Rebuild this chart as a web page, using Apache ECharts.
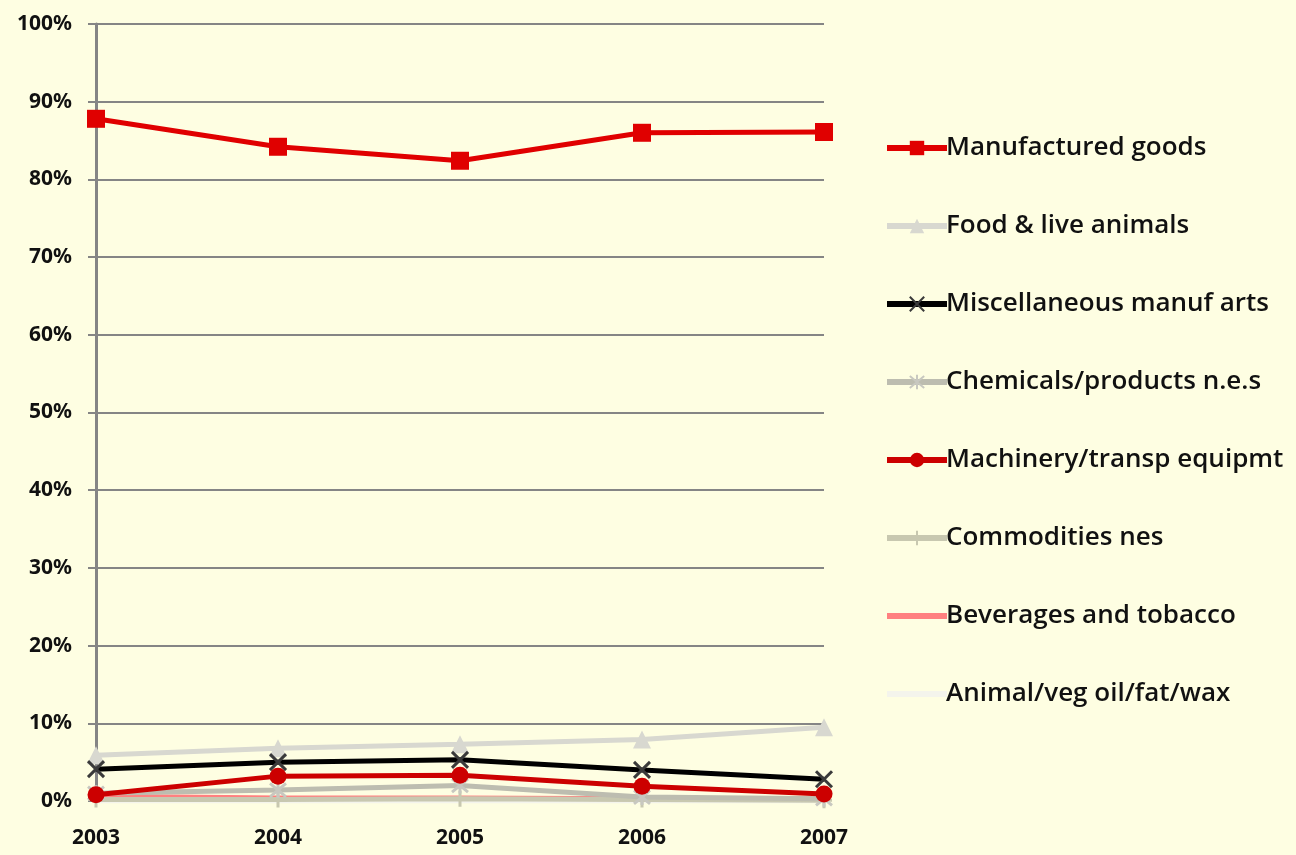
<!DOCTYPE html>
<html>
<head>
<meta charset="utf-8">
<script src="https://cdn.jsdelivr.net/npm/echarts@6/dist/echarts.min.js"></script>
<style>html,body{margin:0;padding:0;background:#fefee2;}#c{width:1296px;height:855px;}</style>
</head>
<body>
<div id="c"></div>
<script>
var years = ['2003','2004','2005','2006','2007'];
var manufactured = [87.8, 84.2, 82.4, 86.0, 86.1];
var food = [5.9, 6.8, 7.3, 7.9, 9.5];
var misc = [4.1, 5.0, 5.3, 4.0, 2.8];
var chemicals = [1.0, 1.4, 2.0, 0.5, 0.3];
var machinery = [0.8, 3.2, 3.3, 1.9, 0.9];
var commodities = [0.2, 0.2, 0.3, 0.2, 0.1];
var beverages = [0.6, 0.4, 0.4, 0.3, 0.3];
var animalOil = [0.0, 0.0, 0.0, 0.0, 0.0];
var yTicks = [0, 10, 20, 30, 40, 50, 60, 70, 80, 90, 100];

var X_PATH = 'path://M0,0L10,10M10,0L0,10';
var AST_PATH = 'path://M0,0L10,10M10,0L0,10M5,-1L5,11';
var PLUS_PATH = 'path://M5,0L5,10M0,5L10,5';

function mk(name, data, lineColor, symbol, size, markColor, stroke, z) {
  var s = {
    name: name, type: 'line', data: data, z: z,
    lineStyle: {color: lineColor, width: 5},
    itemStyle: {color: markColor},
    symbol: symbol, symbolSize: size, showSymbol: symbol !== 'none',
    emphasis: {disabled: true}, animation: false
  };
  if (stroke) {
    s.itemStyle = {color: 'transparent', borderColor: markColor, borderWidth: 3};
  }
  return s;
}

var names = ['Manufactured goods','Food & live animals','Miscellaneous manuf arts','Chemicals/products n.e.s','Machinery/transp equipmt','Commodities nes','Beverages and tobacco','Animal/veg oil/fat/wax'];
var legendData = names.map(function(n){
  if (n === 'Beverages and tobacco' || n === 'Animal/veg oil/fat/wax') {
    return {name: n, itemStyle: {opacity: 0}};
  }
  return {name: n};
});

var chart = echarts.init(document.getElementById('c'));
chart.setOption({
  backgroundColor: '#fefee2',
  animation: false,
  grid: {left: 96, right: 472, top: 24, bottom: 54, containLabel: false},
  xAxis: {
    type: 'category', data: years, boundaryGap: false,
    axisLine: {show: false}, axisTick: {show: false},
    axisLabel: {fontFamily: 'Noto Sans', fontWeight: 'bold', fontSize: 21, color: '#111', margin: 27}
  },
  yAxis: {
    type: 'value', min: 0, max: 100, interval: 10,
    axisLine: {show: true, lineStyle: {color: '#858585', width: 3}},
    axisTick: {show: true, length: 8, lineStyle: {color: '#858585', width: 2}},
    splitLine: {lineStyle: {color: '#858585', width: 2}},
    axisLabel: {fontFamily: 'Noto Sans', fontWeight: 'bold', fontSize: 21, color: '#111', margin: 24,
      formatter: function(v){ return yTicks.indexOf(v) >= 0 ? v + '%' : ''; }}
  },
  legend: {
    orient: 'vertical', left: 879, top: 130,
    itemWidth: 60, itemHeight: 18, itemGap: 52,
    lineStyle: {width: 6},
    textStyle: {fontFamily: 'Open Sans', fontSize: 26, color: '#111', fontWeight: 600, padding: [0,0,0,-6]},
    data: legendData
  },
  series: [
    mk('Animal/veg oil/fat/wax', animalOil, '#f4f4ec', 'none', 0, '#f4f4ec', false, 2),
    mk('Beverages and tobacco', beverages, '#ff8080', 'none', 0, '#ff8080', false, 3),
    mk('Commodities nes', commodities, '#c8c8b0', PLUS_PATH, 16, '#c8c8b0', true, 4),
    mk('Chemicals/products n.e.s', chemicals, '#bdbdb0', AST_PATH, 16, '#c8c8c0', true, 5),
    mk('Food & live animals', food, '#d8d8d0', 'triangle', 18, '#d8d8d0', false, 6),
    mk('Miscellaneous manuf arts', misc, '#000000', X_PATH, 16, '#3a3a3a', true, 7),
    mk('Machinery/transp equipmt', machinery, '#cc0000', 'circle', 17, '#cc0000', false, 8),
    mk('Manufactured goods', manufactured, '#e00000', 'rect', 18, '#e00000', false, 9)
  ]
});
</script>
</body>
</html>
